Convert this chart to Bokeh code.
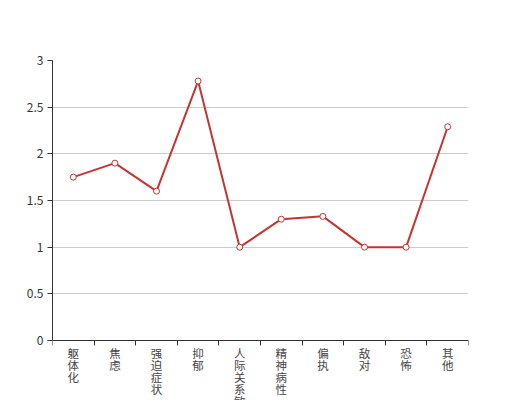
from bokeh.plotting import figure
from bokeh.models import Range1d, FixedTicker, ColumnDataSource
from bokeh.embed import file_html
from bokeh.resources import INLINE

categories = ["躯体化", "焦虑", "强迫症状", "抑郁", "人际关系敏感", "精神病性", "偏执", "敌对", "恐怖", "其他"]
values = [1.75, 1.9, 1.6, 2.78, 1.0, 1.3, 1.33, 1.0, 1.0, 2.29]
yticks = [0, 0.5, 1, 1.5, 2, 2.5, 3]
ytick_labels = ["0", "0.5", "1", "1.5", "2", "2.5", "3"]

RED = "#c23531"
FONT = "Noto Sans CJK SC"

n = len(categories)
xs = [i + 0.5 for i in range(n)]

# layout (pixels): plot area 416 x 280, with extra frame room below for the labels
PLOT_H = 280
BELOW = 60
ymax = yticks[-1]
ymin = -BELOW * ymax / PLOT_H

p = figure(frame_width=416, frame_height=PLOT_H + BELOW, output_backend="svg", toolbar_location=None,
           x_range=Range1d(0, n), y_range=Range1d(ymin, ymax),
           min_border_left=52, min_border_right=52, min_border_top=60, min_border_bottom=0)
p.outline_line_color = None
p.xgrid.visible = False
p.ygrid.grid_line_color = "#cccccc"

# y axis
p.yaxis.ticker = FixedTicker(ticks=yticks)
p.yaxis.bounds = (0, ymax)
p.yaxis.major_label_overrides = {t: l for t, l in zip(yticks, ytick_labels)}
p.yaxis.minor_tick_line_color = None
p.yaxis.major_tick_in = 0
p.yaxis.major_tick_out = 5
p.yaxis.axis_line_color = "#333333"
p.yaxis.major_tick_line_color = "#333333"
p.yaxis.major_label_text_color = "#333333"
p.yaxis.major_label_text_font = FONT
p.yaxis.major_label_text_font_size = "12px"
p.yaxis.major_label_standoff = 4

# x axis at y = 0, ticks at category boundaries
p.xaxis.fixed_location = 0
p.xaxis.ticker = FixedTicker(ticks=[], minor_ticks=list(range(n + 1)))
p.xaxis.minor_tick_in = 0
p.xaxis.minor_tick_out = 5
p.xaxis.minor_tick_line_color = "#333333"
p.xaxis.axis_line_color = "#333333"
p.xaxis.major_label_text_font_size = "0px"

# vertical category labels, one character per line
lx, lch, loff = [], [], []
for x, c in zip(xs, categories):
    for k, ch in enumerate(c):
        lx.append(x)
        lch.append(ch)
        loff.append(4 + 12 * k)
lab = ColumnDataSource(dict(x=lx, y=[0] * len(lx), t=lch, off=loff))
p.text(x="x", y="y", text="t", y_offset="off", source=lab, text_align="center", text_baseline="top",
       text_font={"value": FONT}, text_font_size="11.5px", text_color="#444444")

p.line(xs, values, line_color=RED, line_width=2)
p.scatter(xs, values, size=6, fill_color="white", line_color=RED, line_width=1)

open("out.html", "w").write(file_html(p, INLINE))
